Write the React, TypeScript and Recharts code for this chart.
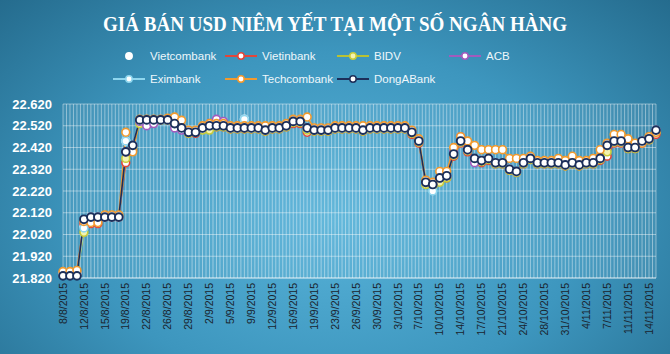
import React from "react";
import { LineChart, Line, XAxis, YAxis, CartesianGrid } from "recharts";

// trading days (Mon-Sat) from 8/8/2015 to 16/11/2015
const dates = [
  "8/8/2015",
  "10/8/2015", "11/8/2015", "12/8/2015", "13/8/2015", "14/8/2015", "15/8/2015",
  "17/8/2015", "18/8/2015", "19/8/2015", "20/8/2015", "21/8/2015", "22/8/2015",
  "24/8/2015", "25/8/2015", "26/8/2015", "27/8/2015", "28/8/2015", "29/8/2015",
  "31/8/2015", "1/9/2015", "2/9/2015", "3/9/2015", "4/9/2015", "5/9/2015",
  "7/9/2015", "8/9/2015", "9/9/2015", "10/9/2015", "11/9/2015", "12/9/2015",
  "14/9/2015", "15/9/2015", "16/9/2015", "17/9/2015", "18/9/2015", "19/9/2015",
  "21/9/2015", "22/9/2015", "23/9/2015", "24/9/2015", "25/9/2015", "26/9/2015",
  "28/9/2015", "29/9/2015", "30/9/2015", "1/10/2015", "2/10/2015", "3/10/2015",
  "5/10/2015", "6/10/2015", "7/10/2015", "8/10/2015", "9/10/2015", "10/10/2015",
  "12/10/2015", "13/10/2015", "14/10/2015", "15/10/2015", "16/10/2015", "17/10/2015",
  "19/10/2015", "20/10/2015", "21/10/2015", "22/10/2015", "23/10/2015", "24/10/2015",
  "26/10/2015", "27/10/2015", "28/10/2015", "29/10/2015", "30/10/2015", "31/10/2015",
  "2/11/2015", "3/11/2015", "4/11/2015", "5/11/2015", "6/11/2015", "7/11/2015",
  "9/11/2015", "10/11/2015", "11/11/2015", "12/11/2015", "13/11/2015", "14/11/2015",
  "16/11/2015",
];

const vietcombank = [
  21840,
  21840, 21840, 22060, 22100, 22100, 22100,
  22100, 22100, 22450, 22430, 22547, 22547,
  22547, 22547, 22547, 22530, 22510, 22490,
  22490, 22510, 22520, 22520, 22520, 22510,
  22510, 22550, 22510, 22510, 22500, 22510,
  22510, 22520, 22540, 22540, 22510, 22500,
  22500, 22500, 22510, 22510, 22510, 22510,
  22500, 22510, 22510, 22510, 22510, 22510,
  22510, 22490, 22450, 22260, 22250, 22280,
  22290, 22390, 22450, 22410, 22370, 22360,
  22370, 22350, 22350, 22320, 22310, 22350,
  22370, 22350, 22350, 22350, 22350, 22340,
  22350, 22340, 22350, 22350, 22370, 22430,
  22450, 22450, 22420, 22420, 22450, 22460,
  22500,
];

const vietinbank = [
  21840,
  21840, 21840, 22070, 22070, 22070, 22100,
  22100, 22100, 22350, 22410, 22547, 22547,
  22547, 22547, 22547, 22520, 22505, 22485,
  22485, 22505, 22515, 22515, 22515, 22505,
  22505, 22505, 22505, 22505, 22495, 22505,
  22505, 22515, 22530, 22530, 22490, 22495,
  22495, 22495, 22505, 22505, 22505, 22505,
  22495, 22505, 22505, 22505, 22505, 22505,
  22505, 22480, 22440, 22255, 22245, 22270,
  22280, 22380, 22440, 22400, 22360, 22350,
  22360, 22345, 22345, 22315, 22305, 22345,
  22365, 22345, 22345, 22345, 22345, 22335,
  22345, 22335, 22345, 22345, 22360, 22380,
  22440, 22440, 22415, 22415, 22440, 22455,
  22480,
];

const bidv = [
  21840,
  21840, 21840, 22030, 22090, 22095, 22100,
  22100, 22100, 22370, 22420, 22530, 22545,
  22545, 22545, 22545, 22525, 22505, 22485,
  22490, 22500, 22500, 22515, 22515, 22505,
  22505, 22505, 22505, 22505, 22495, 22505,
  22505, 22515, 22535, 22535, 22500, 22495,
  22495, 22495, 22505, 22505, 22505, 22505,
  22495, 22505, 22505, 22505, 22505, 22505,
  22505, 22485, 22445, 22250, 22240, 22260,
  22280, 22385, 22445, 22405, 22365, 22355,
  22365, 22345, 22345, 22315, 22305, 22345,
  22365, 22345, 22345, 22345, 22345, 22335,
  22345, 22335, 22345, 22345, 22365, 22400,
  22445, 22445, 22415, 22415, 22445, 22455,
  22490,
];

const acb = [
  21840,
  21840, 21840, 22080, 22100, 22100, 22100,
  22100, 22100, 22400, 22430, 22540, 22520,
  22530, 22547, 22547, 22510, 22500, 22490,
  22490, 22510, 22530, 22550, 22540, 22510,
  22510, 22510, 22510, 22510, 22500, 22510,
  22510, 22520, 22540, 22540, 22510, 22500,
  22500, 22500, 22510, 22510, 22510, 22510,
  22500, 22510, 22510, 22510, 22510, 22510,
  22510, 22490, 22450, 22260, 22250, 22280,
  22290, 22400, 22470, 22410, 22350, 22360,
  22370, 22350, 22350, 22320, 22310, 22350,
  22370, 22350, 22350, 22350, 22350, 22340,
  22350, 22340, 22350, 22350, 22370, 22430,
  22450, 22450, 22420, 22420, 22450, 22460,
  22500,
];

const eximbank = [
  21840,
  21840, 21840, 22050, 22100, 22100, 22100,
  22100, 22100, 22450, 22430, 22547, 22547,
  22547, 22547, 22547, 22530, 22510, 22490,
  22490, 22510, 22520, 22520, 22520, 22510,
  22510, 22550, 22510, 22510, 22500, 22510,
  22510, 22520, 22540, 22540, 22510, 22500,
  22500, 22500, 22510, 22510, 22510, 22510,
  22500, 22510, 22510, 22510, 22510, 22510,
  22510, 22490, 22450, 22260, 22220, 22280,
  22290, 22390, 22450, 22410, 22370, 22360,
  22370, 22350, 22350, 22320, 22310, 22350,
  22370, 22350, 22350, 22350, 22350, 22340,
  22350, 22340, 22350, 22350, 22370, 22430,
  22450, 22450, 22420, 22420, 22450, 22460,
  22500,
];

const techcombank = [
  21850,
  21850, 21855, 22080, 22075, 22075, 22110,
  22110, 22110, 22490, 22400, 22550, 22550,
  22550, 22550, 22555, 22560, 22545, 22500,
  22500, 22520, 22530, 22530, 22530, 22520,
  22520, 22520, 22520, 22520, 22520, 22520,
  22520, 22530, 22550, 22550, 22560, 22510,
  22510, 22510, 22520, 22520, 22520, 22520,
  22520, 22520, 22520, 22520, 22520, 22520,
  22520, 22500, 22460, 22270, 22260, 22310,
  22310, 22420, 22470, 22450, 22430, 22410,
  22410, 22410, 22410, 22370, 22370, 22370,
  22380, 22360, 22360, 22360, 22370, 22360,
  22380, 22360, 22360, 22370, 22410, 22440,
  22480, 22480, 22460, 22440, 22440, 22470,
  22490,
];

const dongabank = [
  21830,
  21830, 21830, 22090, 22100, 22100, 22100,
  22100, 22100, 22400, 22430, 22547, 22547,
  22547, 22547, 22547, 22530, 22510, 22490,
  22490, 22510, 22520, 22520, 22520, 22510,
  22510, 22510, 22510, 22510, 22500, 22510,
  22510, 22520, 22540, 22540, 22510, 22500,
  22500, 22500, 22510, 22510, 22510, 22510,
  22500, 22510, 22510, 22510, 22510, 22510,
  22510, 22490, 22450, 22260, 22250, 22280,
  22290, 22390, 22450, 22410, 22370, 22360,
  22370, 22350, 22350, 22320, 22310, 22350,
  22370, 22350, 22350, 22350, 22350, 22340,
  22350, 22340, 22350, 22350, 22370, 22430,
  22450, 22450, 22420, 22420, 22450, 22460,
  22500,
];

const yTicks = [21820, 21920, 22020, 22120, 22220, 22320, 22420, 22520, 22620];

const series = [
  { key: "Vietcombank", values: vietcombank, line: "rgba(255,255,255,0)", dot: "#ffffff", fill: "#ffffff" },
  { key: "Vietinbank", values: vietinbank, line: "#e2463a", dot: "#e2463a", fill: "#ffffff" },
  { key: "BIDV", values: bidv, line: "#b9c233", dot: "#c9cc3a", fill: "#f4f3b0" },
  { key: "ACB", values: acb, line: "#a25bbd", dot: "#a25bbd", fill: "#ffffff" },
  { key: "Eximbank", values: eximbank, line: "#8fd6ee", dot: "#8fd6ee", fill: "#ffffff" },
  { key: "Techcombank", values: techcombank, line: "#f29a2e", dot: "#f29a2e", fill: "#ffffff" },
  { key: "DongABank", values: dongabank, line: "#1c2f5a", dot: "#1c2f5a", fill: "#ffffff" },
];

// legend grid: [column x of the swatch, row y]
const legendSlots = [
  [112, 56], [224, 56], [336, 56], [448, 56],
  [112, 79], [224, 79], [336, 79],
];

const rows = dates.map((d, i) => {
  const r: Record<string, any> = { date: d };
  series.forEach((s) => (r[s.key] = s.values[i]));
  return r;
});

const fmt = (v: number) => `${Math.floor(v / 1000)}.${String(v % 1000).padStart(3, "0")}`;

function DateTick({ x, y, payload }: any) {
  return (
    <text
      x={x}
      y={y}
      dy="0.35em"
      transform={`rotate(-90, ${x}, ${y})`}
      textAnchor="end"
      fill="#1a242e"
      fontSize={10.5}
      fontFamily="Liberation Sans, Arial, sans-serif"
    >
      {payload.value}
    </text>
  );
}

function ValueTick({ x, y, payload }: any) {
  return (
    <text
      x={x}
      y={y}
      dy="0.35em"
      textAnchor="end"
      fill="#ffffff"
      fontSize={13}
      fontWeight="bold"
      fontFamily="Liberation Sans, Arial, sans-serif"
    >
      {fmt(payload.value)}
    </text>
  );
}

function halfStepGrid({ offset }: any) {
  const n = dates.length - 1;
  const step = offset.width / n;
  const out: number[] = [];
  for (let k = 0; k <= 2 * n; k++) out.push(offset.left + (k * step) / 2);
  return out;
}

function LegendBlock() {
  return (
    <>
      {series.map((s, i) => {
        const [lx, ly] = legendSlots[i];
        return (
          <div
            key={s.key}
            style={{ position: "absolute", left: lx, top: ly - 8, height: 16, display: "flex", alignItems: "center" }}
          >
            <svg width={34} height={16}>
              <line x1={1} y1={8} x2={33} y2={8} stroke={s.line} strokeWidth={2} />
              <circle cx={17} cy={8} r={3.2} fill={s.fill} stroke={s.dot} strokeWidth={1.5} />
            </svg>
            <span
              style={{
                marginLeft: 4,
                color: "#eef7fb",
                fontSize: 11.5,
                fontFamily: "Liberation Sans, Arial, sans-serif",
              }}
            >
              {s.key}
            </span>
          </div>
        );
      })}
    </>
  );
}

export default function App() {
  return (
    <div
      style={{
        position: "relative",
        width: 670,
        height: 354,
        overflow: "hidden",
        background:
          "radial-gradient(ellipse 75% 95% at 50% 62%, #58b3d9 0%, #3d96be 50%, #216586 100%)",
      }}
    >
      <style>{"body{margin:0}"}</style>
      <svg width={670} height={44} style={{ position: "absolute", left: 0, top: 0 }}>
        <text
          x={335}
          y={31}
          textAnchor="middle"
          fill="#ffffff"
          fontSize={22}
          fontWeight="bold"
          fontFamily="Liberation Serif, serif"
          textLength={464}
          lengthAdjust="spacingAndGlyphs"
        >
          GIÁ BÁN USD NIÊM YẾT TẠI MỘT SỐ NGÂN HÀNG
        </text>
      </svg>
      <LegendBlock />
      <div style={{ position: "absolute", left: 0, top: 0 }}>
        <LineChart width={670} height={354} data={rows} margin={{ top: 104, right: 14, bottom: 0, left: 0 }}>
          <CartesianGrid
            stroke="rgba(255,255,255,0.42)"
            strokeWidth={1}
            fill="rgba(255,255,255,0.07)"
            verticalCoordinatesGenerator={halfStepGrid}
          />
          <XAxis
            dataKey="date"
            interval={2}
            height={76}
            tickSize={0}
            tickMargin={5}
            axisLine={{ stroke: "rgba(255,255,255,0.6)" }}
            tick={<DateTick />}
          />
          <YAxis
            width={63}
            domain={[21820, 22620]}
            ticks={yTicks}
            interval={0}
            tickSize={0}
            tickMargin={11}
            axisLine={false}
            tick={<ValueTick />}
          />
          {series.map((s) => (
            <Line
              key={s.key}
              type="linear"
              dataKey={s.key}
              stroke={s.line}
              strokeWidth={s.key === "DongABank" ? 1.6 : 1.5}
              dot={{ r: 3.9, fill: s.fill, stroke: s.dot, strokeWidth: s.key === "DongABank" ? 1.9 : 1.6 }}
              isAnimationActive={false}
            />
          ))}
        </LineChart>
      </div>
    </div>
  );
}
